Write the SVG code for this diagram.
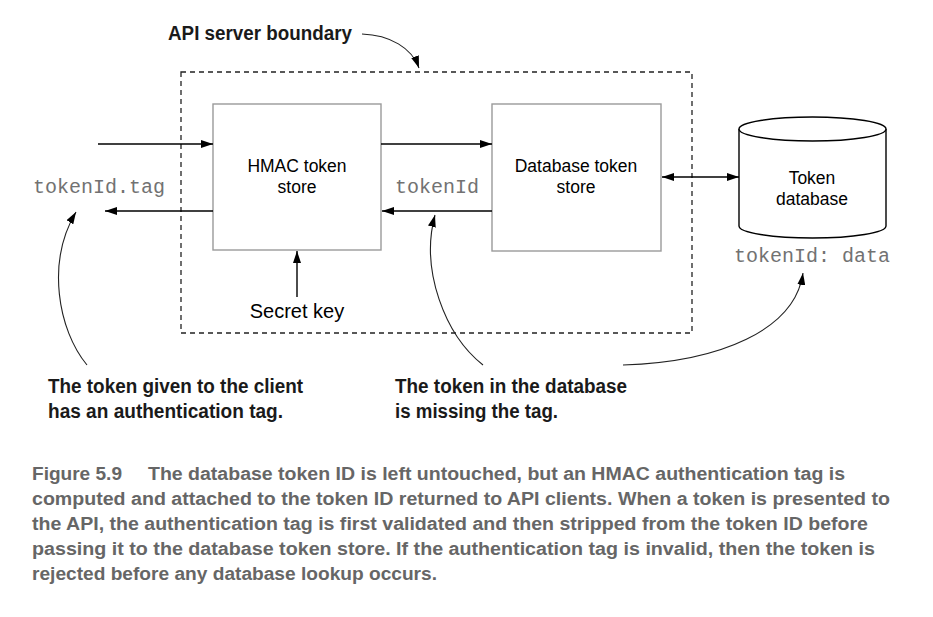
<svg xmlns="http://www.w3.org/2000/svg" width="933" height="617" viewBox="0 0 933 617">
<style>
.box{fill:#fff;stroke:#9a9a9a;stroke-width:1.4}
.lbl{font-family:"Liberation Sans",Arial,sans-serif;font-size:17.5px;fill:#000;text-anchor:middle}
.mono{font-family:"Liberation Mono","Courier New",monospace;font-size:20px;fill:#727272}
.ann{font-family:"Liberation Sans",Arial,sans-serif;font-weight:bold;font-size:20px;fill:#1a1a1a}
.cap{font-family:"Liberation Sans",Arial,sans-serif;font-weight:bold;font-size:17.5px;fill:#666}
.conn{fill:none;stroke:#000;stroke-width:1.4}
.thin{fill:none;stroke:#222;stroke-width:1.1}
</style>
<defs>
<marker id="arr" viewBox="0 0 12 8" refX="12" refY="4" markerWidth="12" markerHeight="8" markerUnits="userSpaceOnUse" orient="auto-start-reverse">
<path d="M0,0 L12,4 L0,8 z" fill="#000"/>
</marker>
</defs>
<rect width="933" height="617" fill="#fff"/>

<g id="boundary">
<rect x="181" y="72" width="511" height="261" fill="none" stroke="#222" stroke-width="1.3" stroke-dasharray="5,4"/>
<text class="ann" x="168" y="40" textLength="184" lengthAdjust="spacingAndGlyphs">API server boundary</text>
</g>

<g id="hmac">
<rect class="box" x="213" y="104" width="168" height="146"/>
<text class="lbl" x="297" y="172">HMAC token</text>
<text class="lbl" x="297" y="193">store</text>
</g>

<g id="dbstore">
<rect class="box" x="492" y="104" width="169" height="147"/>
<text class="lbl" x="576" y="172">Database token</text>
<text class="lbl" x="576" y="193">store</text>
</g>

<g id="tokendb">
<path d="M739,129 L739,226 A73.5,12 0 0 0 886,226 L886,129" fill="#fff" stroke="#000" stroke-width="1.4"/>
<ellipse cx="812.5" cy="129" rx="73.5" ry="12" fill="#fff" stroke="#000" stroke-width="1.4"/>
<text class="lbl" x="812" y="184">Token</text>
<text class="lbl" x="812" y="205">database</text>
</g>

<g id="labels">
<text class="mono" x="33" y="193">tokenId.tag</text>
<text class="mono" x="395" y="193">tokenId</text>
<text class="mono" x="734" y="262">tokenId: data</text>
<text x="297" y="318" font-family="'Liberation Sans',Arial,sans-serif" font-size="20" text-anchor="middle">Secret key</text>
</g>

<g id="connectors">
<line class="conn" x1="98" y1="144" x2="213" y2="144" marker-end="url(#arr)"/>
<line class="conn" x1="213" y1="211" x2="105" y2="211" marker-end="url(#arr)"/>
<line class="conn" x1="381" y1="144" x2="492" y2="144" marker-end="url(#arr)"/>
<line class="conn" x1="492" y1="211" x2="382" y2="211" marker-end="url(#arr)"/>
<line class="conn" x1="662" y1="177" x2="739" y2="177" marker-start="url(#arr)" marker-end="url(#arr)"/>
<line class="conn" x1="297" y1="297" x2="297" y2="251" marker-end="url(#arr)"/>
<path class="thin" d="M362,34 C390,35 412,48 419,68" marker-end="url(#arr)"/>
<path class="thin" d="M87,365 C58,330 46,262 76,212" marker-end="url(#arr)"/>
<path class="thin" d="M483,365 C445,335 420,270 435,215" marker-end="url(#arr)"/>
<path class="thin" d="M623,365 C720,362 795,330 803,273" marker-end="url(#arr)"/>
</g>

<g id="annotations">
<text class="ann" x="48" y="393" textLength="255" lengthAdjust="spacingAndGlyphs">The token given to the client</text>
<text class="ann" x="48" y="418" textLength="235" lengthAdjust="spacingAndGlyphs">has an authentication tag.</text>
<text class="ann" x="395" y="393" textLength="232" lengthAdjust="spacingAndGlyphs">The token in the database</text>
<text class="ann" x="395" y="418" textLength="163" lengthAdjust="spacingAndGlyphs">is missing the tag.</text>
</g>

<g id="caption">
<text class="cap" x="32" y="480" textLength="90" lengthAdjust="spacingAndGlyphs">Figure 5.9</text>
<text class="cap" x="148" y="480" textLength="697" lengthAdjust="spacingAndGlyphs">The database token ID is left untouched, but an HMAC authentication tag is</text>
<text class="cap" x="32" y="505" textLength="858" lengthAdjust="spacingAndGlyphs">computed and attached to the token ID returned to API clients. When a token is presented to</text>
<text class="cap" x="32" y="530" textLength="836" lengthAdjust="spacingAndGlyphs">the API, the authentication tag is first validated and then stripped from the token ID before</text>
<text class="cap" x="32" y="555" textLength="843" lengthAdjust="spacingAndGlyphs">passing it to the database token store. If the authentication tag is invalid, then the token is</text>
<text class="cap" x="32" y="580" textLength="405" lengthAdjust="spacingAndGlyphs">rejected before any database lookup occurs.</text>
</g>
</svg>
